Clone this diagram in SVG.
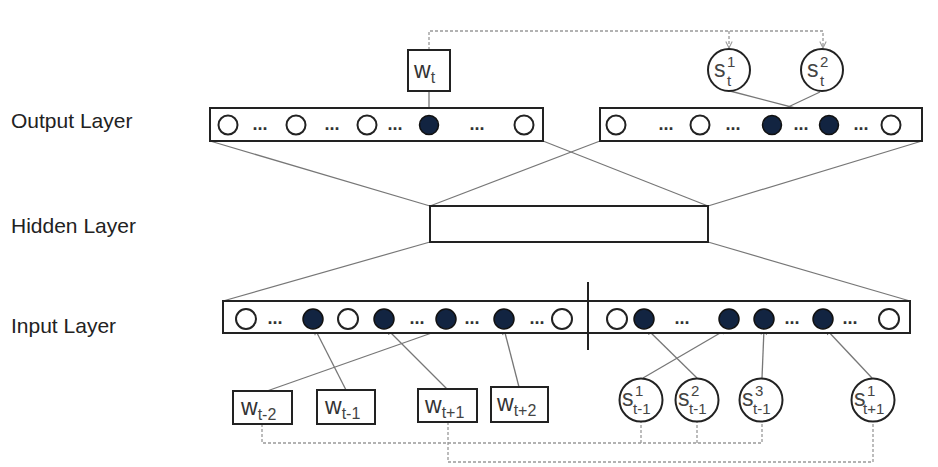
<svg xmlns="http://www.w3.org/2000/svg" width="938" height="467" viewBox="0 0 938 467">
<defs>
<marker id="ah" viewBox="0 0 10 10" refX="9" refY="5" markerWidth="7" markerHeight="7" orient="auto" markerUnits="userSpaceOnUse">
<path d="M1,1 L9,5 L1,9" fill="none" stroke="#777" stroke-width="1.5"/>
</marker>
<marker id="dh" viewBox="0 0 10 10" refX="9" refY="5" markerWidth="8" markerHeight="8" orient="auto" markerUnits="userSpaceOnUse">
<path d="M1,1 L9,5 L1,9" fill="none" stroke="#999" stroke-width="1.3"/>
</marker>
</defs>
<style>
.lbl{font-family:"Liberation Sans",Arial,sans-serif;font-size:21px;fill:#222}
.box{fill:#fff;stroke:#222;stroke-width:2}
.open{fill:#fff;stroke:#222;stroke-width:2}
.fill{fill:#122441;stroke:#111;stroke-width:1.5}
.dots{font-family:"Liberation Sans",Arial,sans-serif;font-size:18px;font-weight:bold;fill:#333;text-anchor:middle}
.w{font-family:"Liberation Sans",Arial,sans-serif;font-size:23px;fill:#333}
.sub{font-size:16px;fill:#444}
.s{font-family:"Liberation Sans",Arial,sans-serif;font-size:23px;fill:#444}
.sc{font-family:"Liberation Sans",Arial,sans-serif;font-size:15px;fill:#444}
.fan{stroke:#777;stroke-width:1.2;fill:none}
.con{stroke:#777;stroke-width:1.3;fill:none;marker-end:url(#ah)}
.dash{stroke:#999;stroke-width:1.3;fill:none;stroke-dasharray:3 2}
</style>
<rect width="938" height="467" fill="#fff"/>

<g id="labels">
<text class="lbl" x="11" y="128">Output Layer</text>
<text class="lbl" x="11" y="233">Hidden Layer</text>
<text class="lbl" x="11" y="333">Input Layer</text>
</g>

<g id="connectors">
<line class="fan" x1="210" y1="141" x2="430" y2="206"/>
<line class="fan" x1="543" y1="141" x2="708" y2="206"/>
<line class="fan" x1="600" y1="141" x2="430" y2="206"/>
<line class="fan" x1="922" y1="141" x2="708" y2="206"/>
<line class="fan" x1="430" y1="242" x2="223" y2="301"/>
<line class="fan" x1="708" y1="242" x2="910" y2="301"/>
<line class="con" x1="429" y1="91" x2="429" y2="115"/>
<line class="con" x1="730" y1="91" x2="826" y2="116"/>
<line class="con" x1="820" y1="92" x2="769" y2="116"/>
<line class="con" x1="267" y1="391" x2="443" y2="329"/>
<line class="con" x1="346" y1="390" x2="315" y2="329"/>
<line class="con" x1="447" y1="389" x2="387" y2="329"/>
<line class="con" x1="519" y1="387" x2="504" y2="329"/>
<line class="con" x1="643" y1="378" x2="727" y2="329"/>
<line class="con" x1="697" y1="378" x2="647" y2="329"/>
<line class="con" x1="762" y1="378" x2="764" y2="329"/>
<line class="con" x1="872" y1="378" x2="826" y2="329"/>
<path class="dash" d="M429,50 V31 H823 V48" marker-end="url(#dh)"/>
<path class="dash" d="M729,31 V48" marker-end="url(#dh)"/>
<path class="dash" d="M262,424 V443 H762 V422"/>
<path class="dash" d="M641,443 V422"/>
<path class="dash" d="M697,443 V422"/>
<path class="dash" d="M448,422 V462 H873 V422"/>
</g>

<g id="output-left">
<rect class="box" x="210" y="108" width="333" height="33"/>
<circle class="open" cx="228" cy="125" r="9.5"/>
<text class="dots" x="260" y="130">...</text>
<circle class="open" cx="296" cy="125" r="9.5"/>
<text class="dots" x="332" y="130">...</text>
<circle class="open" cx="367" cy="125" r="9.5"/>
<text class="dots" x="395" y="130">...</text>
<circle class="fill" cx="429" cy="125" r="9.5"/>
<text class="dots" x="477" y="130">...</text>
<circle class="open" cx="524" cy="125" r="9.5"/>
</g>

<g id="output-right">
<rect class="box" x="600" y="108" width="322" height="33"/>
<circle class="open" cx="616" cy="125" r="9.5"/>
<text class="dots" x="666" y="130">...</text>
<circle class="open" cx="700" cy="125" r="9.5"/>
<text class="dots" x="733" y="130">...</text>
<circle class="fill" cx="772" cy="125" r="9.5"/>
<text class="dots" x="801" y="130">...</text>
<circle class="fill" cx="829" cy="125" r="9.5"/>
<text class="dots" x="861" y="130">...</text>
<circle class="open" cx="891" cy="125" r="9.5"/>
</g>

<g id="hidden">
<rect class="box" x="430" y="206" width="278" height="36"/>
</g>

<g id="input">
<rect class="box" x="223" y="301" width="687" height="32"/>
<line x1="588" y1="282" x2="588" y2="350" stroke="#222" stroke-width="2"/>
<circle class="open" cx="246" cy="319" r="10"/>
<text class="dots" x="275" y="324">...</text>
<circle class="fill" cx="313" cy="319" r="10"/>
<circle class="open" cx="348" cy="319" r="10"/>
<circle class="fill" cx="384" cy="319" r="10"/>
<text class="dots" x="417" y="324">...</text>
<circle class="fill" cx="446" cy="319" r="10"/>
<text class="dots" x="472" y="324">...</text>
<circle class="fill" cx="504" cy="319" r="10"/>
<text class="dots" x="537" y="324">...</text>
<circle class="open" cx="562" cy="319" r="10"/>
<circle class="open" cx="617" cy="319" r="10"/>
<circle class="fill" cx="644" cy="319" r="10"/>
<text class="dots" x="682" y="324">...</text>
<circle class="fill" cx="729" cy="319" r="10"/>
<circle class="fill" cx="764" cy="319" r="10"/>
<text class="dots" x="792" y="324">...</text>
<circle class="fill" cx="823" cy="319" r="10"/>
<text class="dots" x="850" y="324">...</text>
<circle class="open" cx="889" cy="319" r="10"/>
</g>

<g id="wt">
<rect class="box" x="408" y="50" width="42" height="41"/>
<text class="w" x="414" y="78">w<tspan class="sub" dy="5">t</tspan></text>
</g>

<g id="st1">
<circle class="open" cx="729" cy="70" r="21"/>
<text class="s" x="714" y="77">s</text>
<text class="sc" x="727" y="67">1</text>
<text class="sc" x="727" y="86">t</text>
</g>
<g id="st2">
<circle class="open" cx="822" cy="70" r="21"/>
<text class="s" x="807" y="77">s</text>
<text class="sc" x="820" y="67">2</text>
<text class="sc" x="820" y="86">t</text>
</g>

<g id="wtm2">
<rect class="box" x="233" y="391" width="59" height="33"/>
<text class="w" x="241" y="415">w<tspan class="sub" dy="5">t-2</tspan></text>
</g>
<g id="wtm1">
<rect class="box" x="317" y="390" width="58" height="34"/>
<text class="w" x="325" y="414">w<tspan class="sub" dy="5">t-1</tspan></text>
</g>
<g id="wtp1">
<rect class="box" x="418" y="389" width="59" height="33"/>
<text class="w" x="425" y="413">w<tspan class="sub" dy="5">t+1</tspan></text>
</g>
<g id="wtp2">
<rect class="box" x="491" y="387" width="57" height="35"/>
<text class="w" x="497" y="411">w<tspan class="sub" dy="5">t+2</tspan></text>
</g>

<g id="s1tm1">
<circle class="open" cx="641" cy="400" r="21.5"/>
<text class="s" x="622" y="406">s</text>
<text class="sc" x="635" y="396">1</text>
<text class="sc" x="633" y="414">t-1</text>
</g>
<g id="s2tm1">
<circle class="open" cx="697" cy="400" r="21.5"/>
<text class="s" x="678" y="406">s</text>
<text class="sc" x="691" y="396">2</text>
<text class="sc" x="689" y="414">t-1</text>
</g>
<g id="s3tm1">
<circle class="open" cx="761" cy="400" r="21.5"/>
<text class="s" x="742" y="406">s</text>
<text class="sc" x="755" y="396">3</text>
<text class="sc" x="753" y="414">t-1</text>
</g>
<g id="s1tp1">
<circle class="open" cx="873" cy="400" r="21.5"/>
<text class="s" x="854" y="406">s</text>
<text class="sc" x="867" y="396">1</text>
<text class="sc" x="863" y="414">t+1</text>
</g>
</svg>
